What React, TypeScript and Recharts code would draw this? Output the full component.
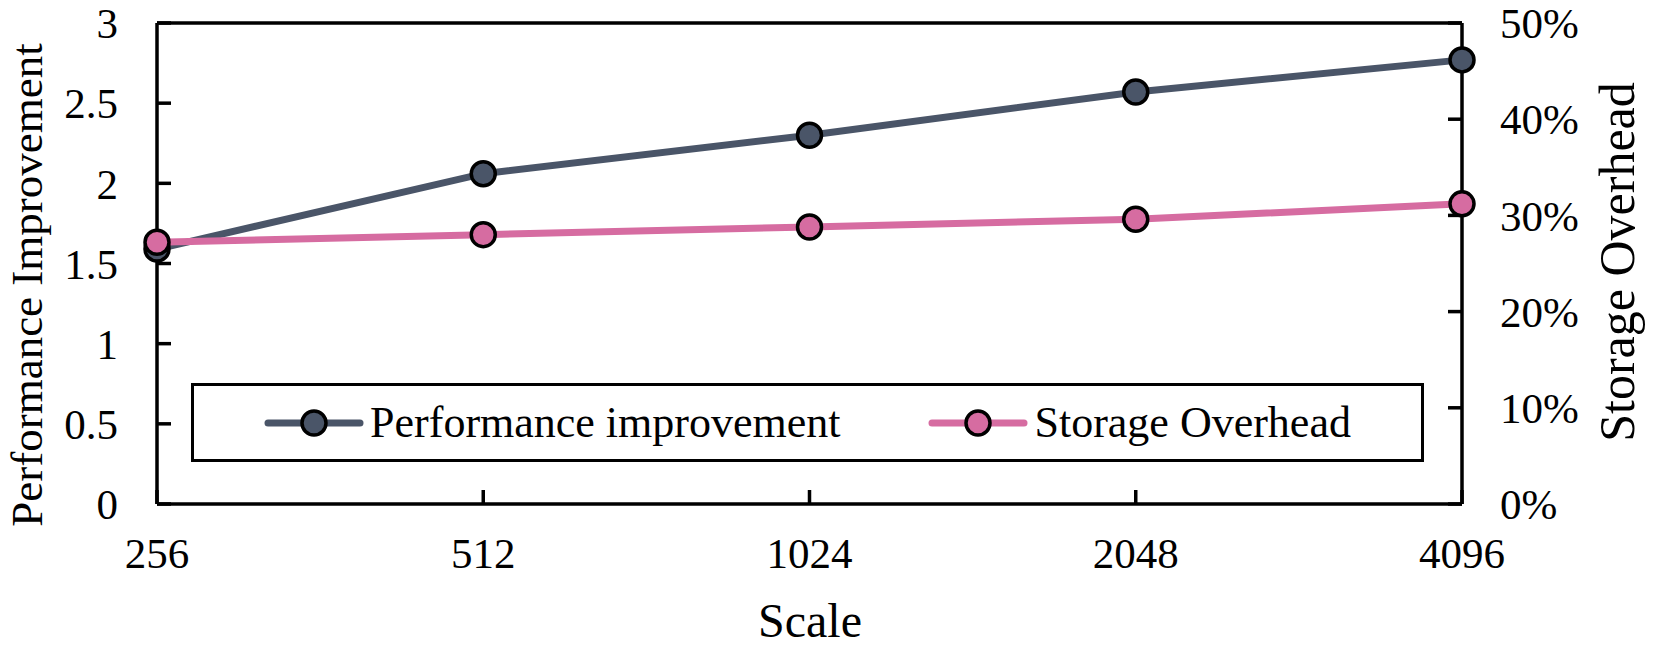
import React from 'react';
import { LineChart, Line, XAxis, YAxis, Legend, Label, ReferenceLine } from 'recharts';

const scales = ['256', '512', '1024', '2048', '4096'];
const performance = [1.59, 2.06, 2.3, 2.57, 2.77];
const storageOverhead = [27.2, 28.0, 28.8, 29.6, 31.2];
const leftTicks = [0, 0.5, 1, 1.5, 2, 2.5, 3];
const rightTicks = [0, 10, 20, 30, 40, 50];

const data = scales.map((s, i) => ({
  scale: s,
  perf: performance[i],
  storage: storageOverhead[i],
}));

const FONT = '"Liberation Serif", "Times New Roman", serif';
const PERF_COLOR = '#4a5568';
const STORAGE_COLOR = '#d66ca1';

const legendItems = [
  { name: 'Performance improvement', color: PERF_COLOR },
  { name: 'Storage Overhead', color: STORAGE_COLOR },
];

const LegendBox = () => (
  <div
    style={{
      boxSizing: 'border-box',
      width: 1233,
      height: 79,
      border: '3.5px solid #000',
      background: '#fff',
      display: 'flex',
      alignItems: 'center',
      justifyContent: 'center',
      gap: 88,
      fontFamily: FONT,
      fontSize: 44,
      color: '#000',
    }}
  >
    {legendItems.map((it) => (
      <div key={it.name} style={{ display: 'flex', alignItems: 'center' }}>
        <svg width={100} height={34} style={{ marginRight: 6 }}>
          <line x1={4} y1={17} x2={96} y2={17} stroke={it.color} strokeWidth={7} strokeLinecap="round" />
          <circle cx={50} cy={17} r={12} fill={it.color} stroke="#000" strokeWidth={3.5} />
        </svg>
        <span style={{ lineHeight: 1 }}>{it.name}</span>
      </div>
    ))}
  </div>
);

const tickStyle = { fontSize: 43, fill: '#000', fontFamily: FONT };
const axisStyle = { stroke: '#000', strokeWidth: 3.5 };

export default function App() {
  return (
    <div style={{ position: 'absolute', left: 0, top: 0, width: 1654, height: 646, background: '#fff' }}>
      <LineChart
        width={1654}
        height={646}
        data={data}
        margin={{ top: 23, right: 72, left: 57, bottom: 62 }}
      >
        <XAxis
          dataKey="scale"
          height={80}
          axisLine={axisStyle}
          tickLine={axisStyle}
          tickSize={-14}
          tickMargin={47}
          tick={tickStyle}
          interval={0}
        >
          <Label
            content={() => (
              <text x={810} y={637} textAnchor="middle" fontFamily={FONT} fontSize={48} fill="#000">
                Scale
              </text>
            )}
          />
        </XAxis>
        <YAxis
          yAxisId="left"
          width={100}
          domain={[0, 3]}
          ticks={leftTicks}
          axisLine={axisStyle}
          tickLine={axisStyle}
          tickSize={-14}
          tickMargin={53}
          tick={tickStyle}
          interval={0}
        >
          <Label
            content={() => (
              <text
                x={42}
                y={285}
                transform="rotate(-90 42 285)"
                textAnchor="middle"
                fontFamily={FONT}
                fontSize={45}
                fill="#000"
              >
                Performance Improvement
              </text>
            )}
          />
        </YAxis>
        <YAxis
          yAxisId="right"
          orientation="right"
          width={120}
          domain={[0, 50]}
          ticks={rightTicks}
          tickFormatter={(v) => `${v}%`}
          axisLine={axisStyle}
          tickLine={axisStyle}
          tickSize={-14}
          tickMargin={52}
          tick={{ ...tickStyle, textAnchor: 'start' }}
          interval={0}
        >
          <Label
            content={() => (
              <text
                x={1634}
                y={262}
                transform="rotate(-90 1634 262)"
                textAnchor="middle"
                fontFamily={FONT}
                fontSize={50}
                fill="#000"
              >
                Storage Overhead
              </text>
            )}
          />
        </YAxis>
        <ReferenceLine yAxisId="left" y={3} stroke="#000" strokeWidth={3.5} />
        <Legend
          layout="horizontal"
          verticalAlign="middle"
          align="center"
          content={() => <LegendBox />}
          wrapperStyle={{ position: 'absolute', left: 191, top: 383, width: 1233, height: 79 }}
        />
        <Line
          yAxisId="left"
          dataKey="perf"
          stroke={PERF_COLOR}
          strokeWidth={7}
          dot={{ r: 12, fill: PERF_COLOR, stroke: '#000', strokeWidth: 3.5 }}
          isAnimationActive={false}
        />
        <Line
          yAxisId="right"
          dataKey="storage"
          stroke={STORAGE_COLOR}
          strokeWidth={7}
          dot={{ r: 12, fill: STORAGE_COLOR, stroke: '#000', strokeWidth: 3.5 }}
          isAnimationActive={false}
        />
      </LineChart>
    </div>
  );
}
